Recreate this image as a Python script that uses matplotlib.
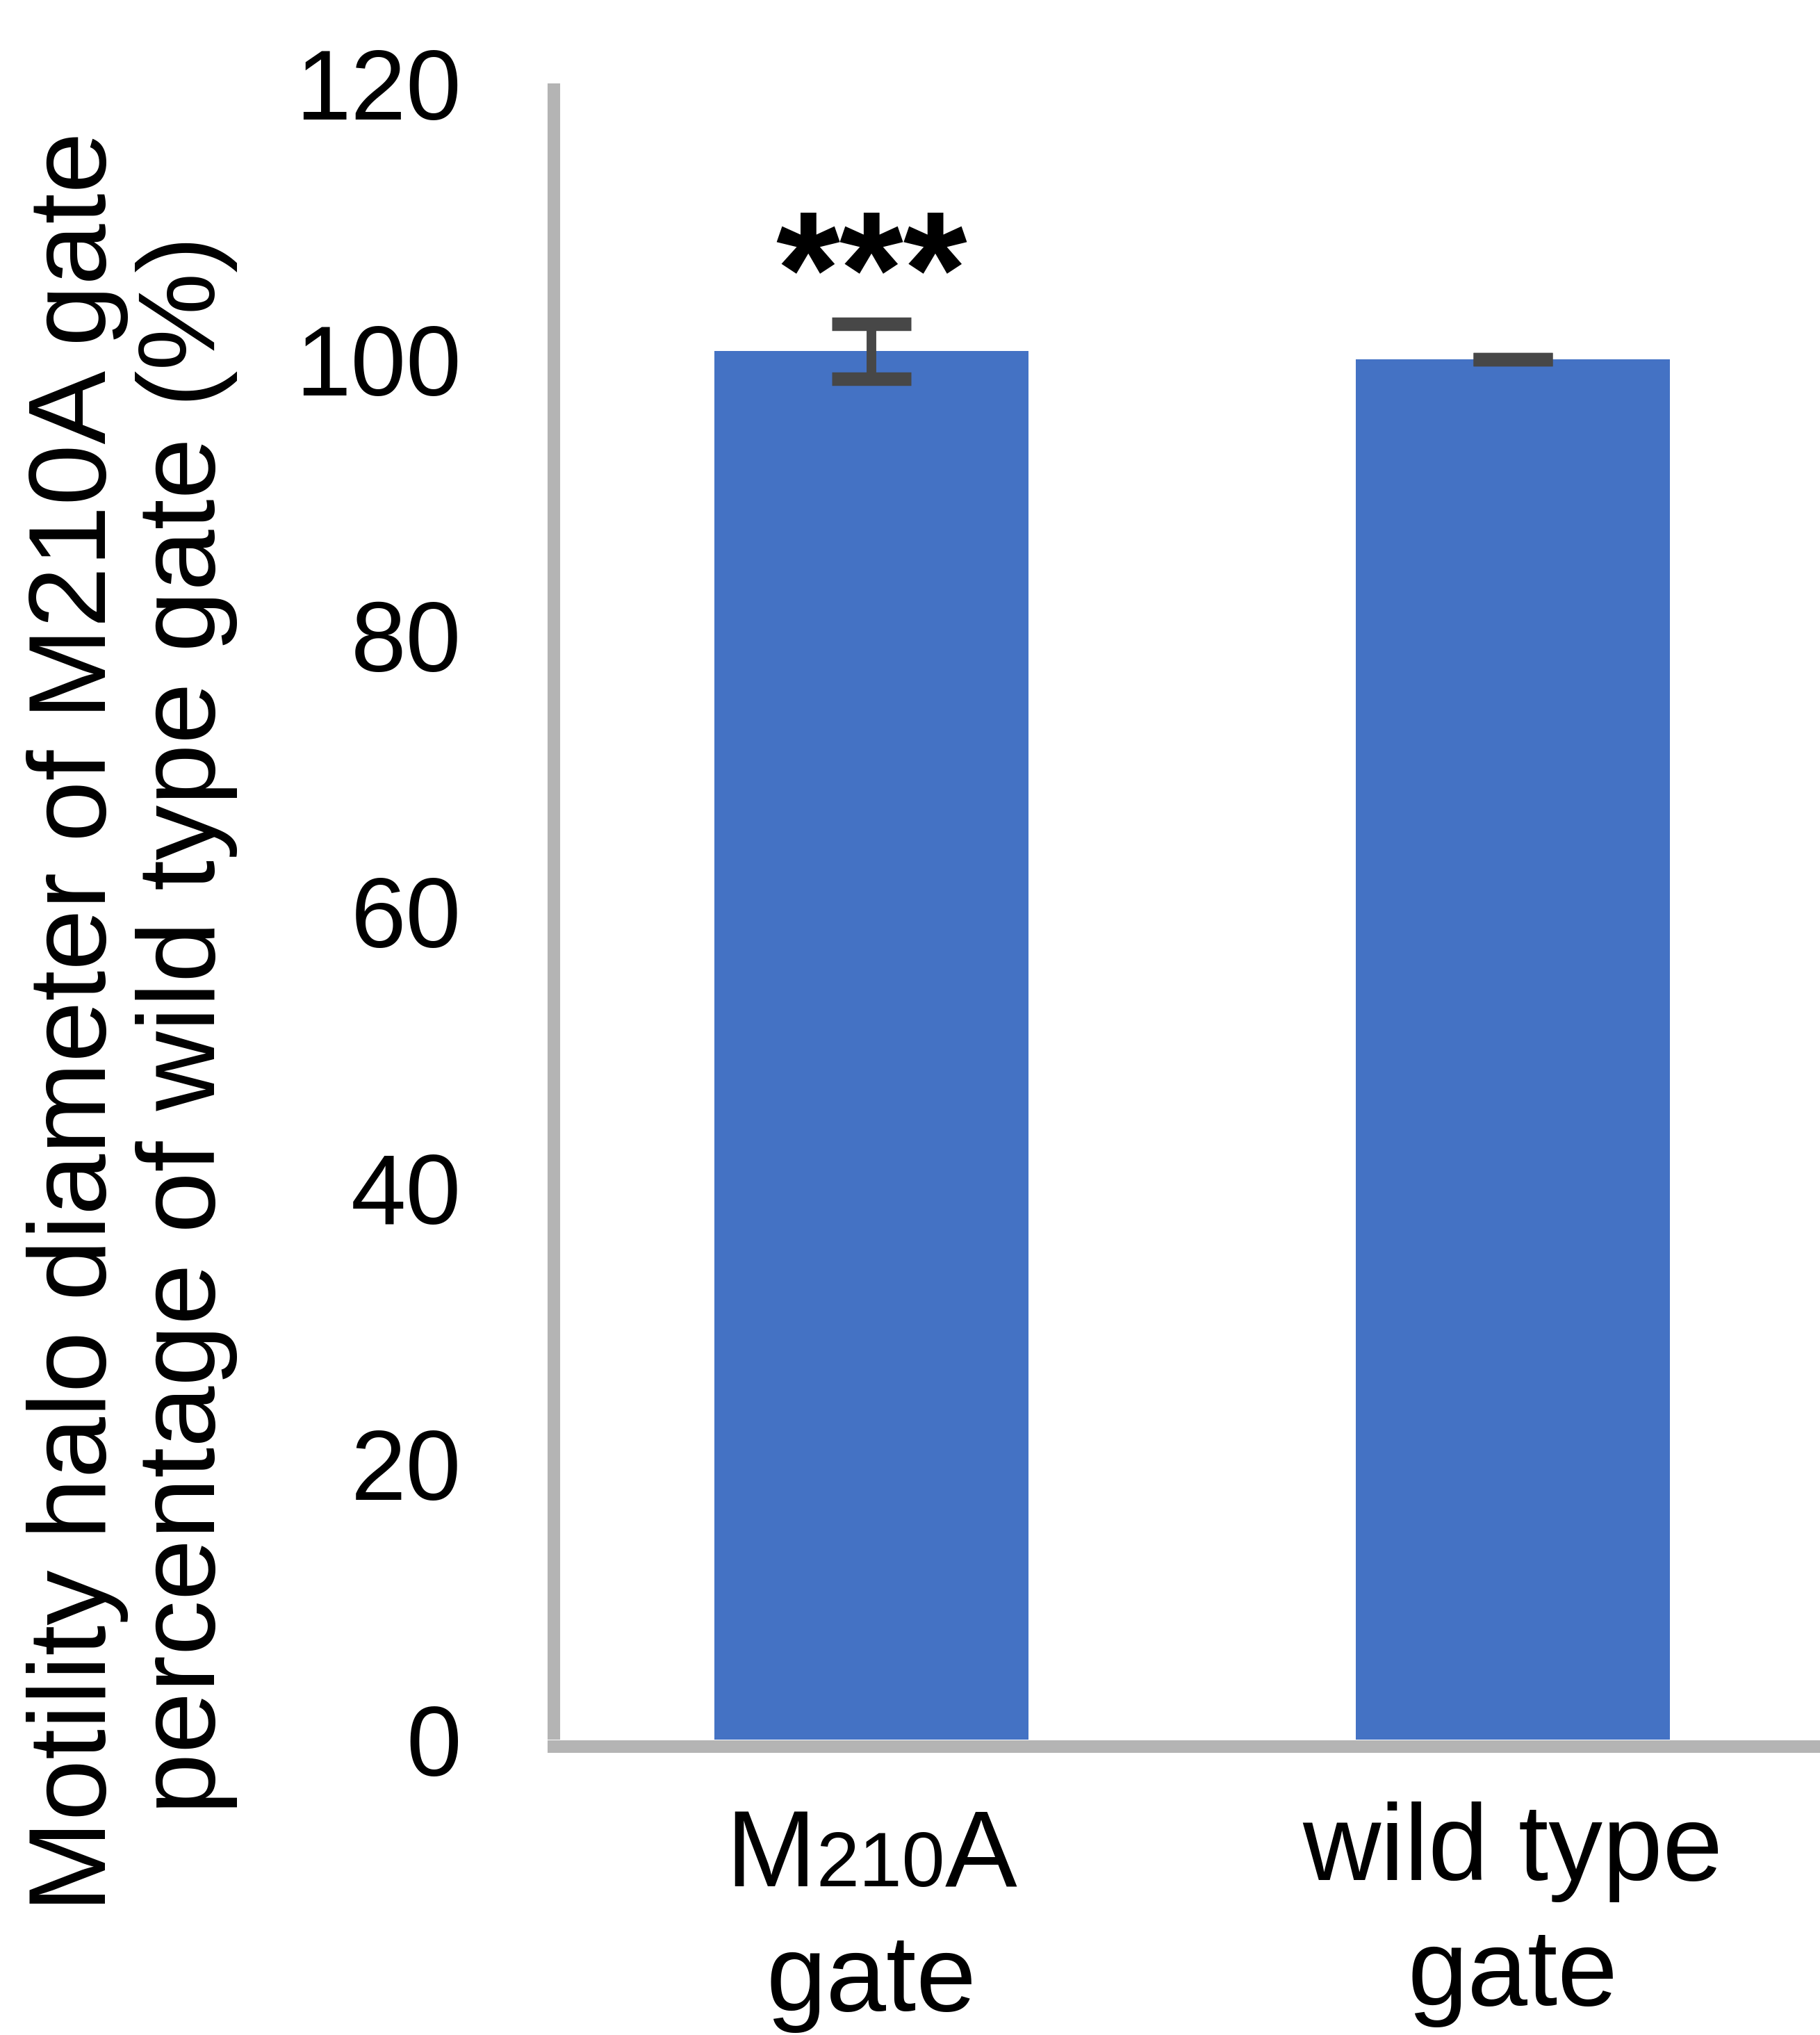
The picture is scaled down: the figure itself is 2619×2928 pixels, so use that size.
import matplotlib
matplotlib.use('Agg')
import matplotlib.pyplot as plt
from matplotlib import transforms

# bar values (% of wild type) and SEM
categories = ['M210A gate', 'wild type gate']
values = [100.6, 100.0]
errors = [2.0, 0.0]
yticks = [0, 20, 40, 60, 80, 100, 120]
signif = '***'
signif_y = 105.6

plt.rcParams['font.family'] = ['Liberation Sans', 'DejaVu Sans']

W, H = 2619, 2928
fig = plt.figure(figsize=(W / 100, H / 100), dpi=100)
ax = fig.add_axes([797 / W, 1 - 2503 / H, (W - 797) / W, (2503 - 120) / H])

x = list(range(len(categories)))
ax.bar(x, values, width=0.49, color='#4472C4', zorder=2)
ax.errorbar(x, values, yerr=errors, fmt='none', ecolor='#474747',
            elinewidth=10, capsize=41, capthick=14, zorder=3)

ax.set_xlim(-0.495, 1.479)
ax.set_ylim(0, 120)
ax.set_yticks(yticks)
ax.tick_params(axis='y', length=0, pad=96, labelsize=103)
ax.set_xticks([])
for s in ['top', 'right']:
    ax.spines[s].set_visible(False)
for s in ['left', 'bottom']:
    ax.spines[s].set_color('#b4b4b4')
    ax.spines[s].set_linewidth(13)
ax.spines['left'].set_capstyle('butt')
ax.spines['bottom'].set_position(('outward', 7))

ax.text(0, signif_y, signif, ha='center', va='center', fontsize=170,
        fontweight='bold', zorder=4)

# two-line y axis title
fig.text(152 / W, 1 - 1470 / H, 'Motility halo diameter of M210A gate',
         rotation=90, rotation_mode='anchor', ha='center', va='baseline', fontsize=114)
fig.text(309 / W, 1 - 1475 / H, 'percentage of wild type gate (%)',
         rotation=90, rotation_mode='anchor', ha='center', va='baseline', fontsize=114)

# category labels under the bars
blend = transforms.blended_transform_factory(ax.transData, fig.transFigure)
ax.text(1, 1 - 2705 / H, 'wild type', transform=blend, ha='center', va='baseline', fontsize=112)
ax.text(1, 1 - 2885 / H, 'gate', transform=blend, ha='center', va='baseline', fontsize=112)
ax.text(0, 1 - 2893 / H, 'gate', transform=blend, ha='center', va='baseline', fontsize=112)

# "M210A" with the residue number set smaller on the same baseline
parts = [('M', 112), ('210', 80), ('A', 112)]
texts = [ax.text(0, 1 - 2714 / H, s, transform=blend, ha='left', va='baseline', fontsize=fs)
         for s, fs in parts]
fig.canvas.draw()
r = fig.canvas.get_renderer()
widths = [t.get_window_extent(r).width for t in texts]
cx = ax.transData.transform((0, 0))[0]
left = cx - sum(widths) / 2
inv = ax.transData.inverted()
for t, w in zip(texts, widths):
    t.set_x(inv.transform((left, 0))[0])
    left += w

fig.savefig('out.png', dpi=100, facecolor='white')
